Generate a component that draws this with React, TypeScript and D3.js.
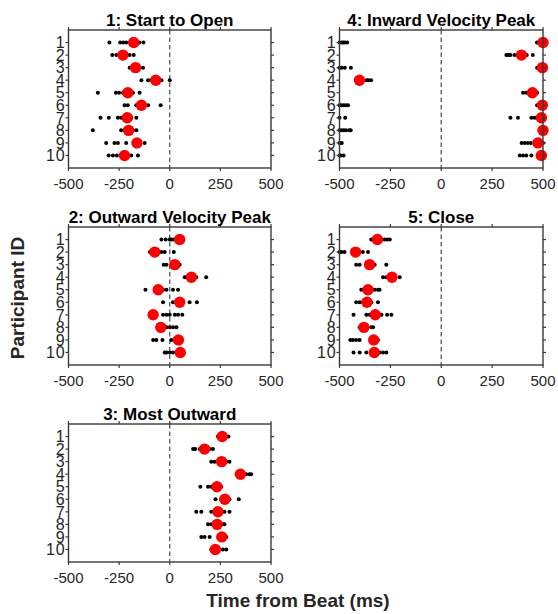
import React from "react";
import * as d3 from "d3";

const participants = [1, 2, 3, 4, 5, 6, 7, 8, 9, 10];
const xTicks = [-500, -250, 0, 250, 500];
const panelTitles = [
  "1: Start to Open",
  "2: Outward Velocity Peak",
  "3: Most Outward",
  "4: Inward Velocity Peak",
  "5: Close",
];

// Panel 1: Start to Open
const startOpenTrials = [
  [-298, -245, -230, -215, -195, -150, -130],
  [-284, -264, -248, -215, -198, -178],
  [-198, -182, -149, -132],
  [-140, -107, -91, -41, 0],
  [-355, -266, -250, -231, -182, -149],
  [-223, -207, -165, -107, -45],
  [-342, -301, -256, -240, -190, -165],
  [-380, -240, -223, -182, -165],
  [-314, -273, -256, -215, -149, -124],
  [-302, -281, -261, -240, -190, -157],
];
const startOpenMeans = [-178, -231, -169, -69, -207, -140, -210, -203, -162, -223];

// Panel 2: Outward Velocity Peak
const outVelTrials = [
  [-41, -20, 0, 8, 20],
  [-98, -85, -57, -41, -25, 20],
  [-30, -16, 33, 49],
  [74, 82, 115, 131, 180],
  [-120, -33, -16, 16, 41],
  [-33, 16, 33, 98, 134],
  [-33, -16, 0, 25, 41, 62],
  [-33, -16, 0, 16, 33],
  [-82, -66, -36, 8, 25],
  [-25, -16, 0, 16, 33],
];
const outVelMeans = [49, -74, 25, 107, -57, 49, -82, -44, 43, 52];

// Panel 3: Most Outward
const mostOutTrials = [
  [238, 279, 290],
  [115, 126, 148, 197, 213],
  [205, 221, 279, 295],
  [377, 393, 402],
  [151, 189, 205, 213, 254],
  [226, 254, 295, 341],
  [131, 156, 205, 221, 270, 295],
  [189, 205, 221, 262, 270],
  [156, 172, 197, 279],
  [205, 229, 262, 279],
];
const mostOutMeans = [259, 172, 256, 349, 233, 272, 238, 234, 257, 225];

// Panel 4: Inward Velocity Peak
const inVelTrials = [
  [-500, -490, -482, -474, -462, 470, 485],
  [320, 330, 340, 360, 420, 450],
  [-500, -490, -474, -444, 471],
  [-382, -366, -358, -345],
  [402, 418, 451, 471],
  [-500, -492, -480, -469, -458, 471, 480],
  [-500, -472, 340, 377, 443, 459, 471],
  [-500, -492, -480, -469, -453, -445],
  [-500, -489, 395, 410, 425, 440, 500],
  [-500, -494, -480, 386, 402, 418, 443],
];
const inVelMeans = [500, 394, 497, -402, 448, 497, 492, 500, 475, 492];

// Panel 5: Close
const closeTrials = [
  [-344, -327, -294, -278, -266, -253],
  [-500, -490, -475, -385, -360],
  [-418, -401, -368, -327, -270],
  [-286, -270, -229, -204],
  [-393, -377, -327, -311, -303],
  [-418, -401, -385, -344, -311],
  [-431, -368, -352, -294, -266, -245],
  [-401, -393, -368, -344, -335],
  [-447, -434, -418, -401, -311],
  [-431, -401, -368, -303, -286, -270],
];
const closeMeans = [-314, -421, -352, -242, -360, -365, -324, -380, -332, -329];

const W = 558;
const H = 614;
const FONT = "'Liberation Sans', Arial, Helvetica, sans-serif";
const AXIS_COLOR = "#3a3a3a";
const TEXT_COLOR = "#262626";

type PanelDef = {
  title: string;
  trials: number[][];
  means: number[];
  x0: number;
  x1: number;
  y0: number;
  y1: number;
};

const colLeft = [68.5, 339.5];
const colRight = [271, 543];
const rowTop = [30, 227, 424];
const panelH = 138;

const panels: PanelDef[] = [
  { title: panelTitles[0], trials: startOpenTrials, means: startOpenMeans, x0: colLeft[0], x1: colRight[0], y0: rowTop[0], y1: rowTop[0] + panelH },
  { title: panelTitles[1], trials: outVelTrials, means: outVelMeans, x0: colLeft[0], x1: colRight[0], y0: rowTop[1], y1: rowTop[1] + panelH },
  { title: panelTitles[2], trials: mostOutTrials, means: mostOutMeans, x0: colLeft[0], x1: colRight[0], y0: rowTop[2], y1: rowTop[2] + panelH },
  { title: panelTitles[3], trials: inVelTrials, means: inVelMeans, x0: colLeft[1], x1: colRight[1], y0: rowTop[0], y1: rowTop[0] + panelH },
  { title: panelTitles[4], trials: closeTrials, means: closeMeans, x0: colLeft[1], x1: colRight[1], y0: rowTop[1], y1: rowTop[1] + panelH },
];

function Panel({ p }: { p: PanelDef }) {
  const x = d3.scaleLinear().domain([-500, 500]).range([p.x0, p.x1]);
  const y = d3.scaleLinear().domain([0, 11]).range([p.y0, p.y1]);
  const tl = 3;
  return (
    <g>
      <line x1={x(0)} x2={x(0)} y1={p.y0} y2={p.y1} stroke="#555" strokeWidth={1.3} strokeDasharray="4.5,3" />
      {p.trials.map((arr, i) =>
        arr.map((v, j) => (
          <circle key={`b${i}-${j}`} cx={x(v)} cy={y(participants[i])} r={2} fill="#000" />
        ))
      )}
      {p.means.map((v, i) => (
        <circle key={`r${i}`} cx={x(v)} cy={y(participants[i])} r={5.7} fill="#ff0000" />
      ))}
      <rect x={p.x0} y={p.y0} width={p.x1 - p.x0} height={p.y1 - p.y0} fill="none" stroke={AXIS_COLOR} strokeWidth={1.4} />
      {participants.map((d) => (
        <g key={`yt${d}`}>
          <line x1={p.x0 - tl} x2={p.x0} y1={y(d)} y2={y(d)} stroke={AXIS_COLOR} strokeWidth={1.2} />
          <line x1={p.x1} x2={p.x1 + tl} y1={y(d)} y2={y(d)} stroke={AXIS_COLOR} strokeWidth={1.2} />
          <text x={p.x0 - 3} y={y(d)} dy="0.36em" textAnchor="end" fontSize={16} letterSpacing={0.8} fill={TEXT_COLOR} fontFamily={FONT}>
            {d}
          </text>
        </g>
      ))}
      {xTicks.map((t) => (
        <g key={`xt${t}`}>
          <line x1={x(t)} x2={x(t)} y1={p.y1} y2={p.y1 + tl} stroke={AXIS_COLOR} strokeWidth={1.2} />
          <line x1={x(t)} x2={x(t)} y1={p.y0 - tl} y2={p.y0} stroke={AXIS_COLOR} strokeWidth={1.2} />
          <text x={x(t)} y={p.y1 + 21} textAnchor="middle" fontSize={15} fill={TEXT_COLOR} fontFamily={FONT}>
            {t}
          </text>
        </g>
      ))}
      <text x={(p.x0 + p.x1) / 2} y={p.y0 - 4} textAnchor="middle" fontSize={17} fontWeight="bold" fill="#000" fontFamily={FONT}>
        {p.title}
      </text>
    </g>
  );
}

export default function App() {
  return (
    <svg width={W} height={H} style={{ position: "absolute", left: 0, top: 0, background: "#fff" }}>
      <rect x={0} y={0} width={W} height={H} fill="#fff" />
      {panels.map((p, i) => (
        <Panel key={i} p={p} />
      ))}
      <text x={298} y={607} textAnchor="middle" fontSize={19} fontWeight="bold" fill="#262626" fontFamily={FONT}>
        Time from Beat (ms)
      </text>
      <text
        transform="translate(24,298) rotate(-90)"
        textAnchor="middle"
        fontSize={19}
        fontWeight="bold"
        fill="#262626"
        fontFamily={FONT}
      >
        Participant ID
      </text>
    </svg>
  );
}
